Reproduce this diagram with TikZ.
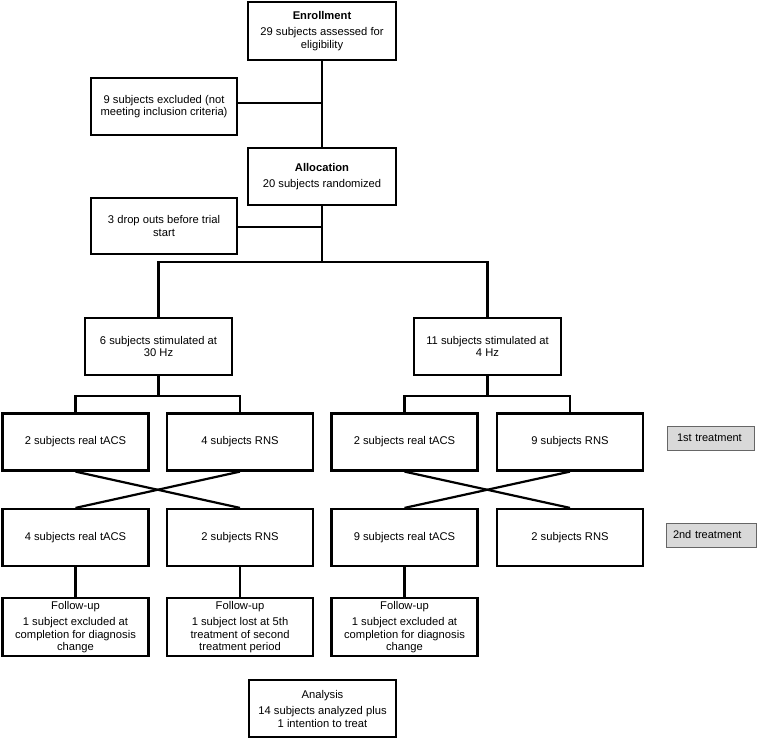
\documentclass[tikz,border=0pt]{standalone}
\usepackage{fontspec}
\setmainfont{Liberation Sans}
\usetikzlibrary{shadows}

\newcommand*{\boxw}{146pt}
\newcommand*{\boxh}{57pt}
\newcommand*{\colA}{75.5}
\newcommand*{\colB}{240}
\newcommand*{\colC}{404.5}
\newcommand*{\colD}{570}

\begin{document}
\begin{tikzpicture}
[
	x=1pt,y=-1pt,
	flowbox/.style={draw,line width=2.2pt,minimum width=\boxw,minimum height=\boxh,
		inner sep=0pt,align=center,font=\fontsize{11.2}{12.5}\selectfont},
	tagbox/.style={draw=gray!80!black,line width=0.6pt,fill=gray!30,minimum height=24pt,
		inner ysep=0pt,align=left,font=\fontsize{11}{12}\selectfont,
		drop shadow={shadow xshift=1.2pt,shadow yshift=-1.2pt,fill=gray!70}},
	link/.style={line width=2.2pt}
]

	\useasboundingbox (0,0) rectangle (758,740);

	% enrollment and allocation
	\node[flowbox,minimum width=148pt,minimum height=58pt] (enroll) at (322,31)
		{\textbf{Enrollment}\\[4pt]29 subjects assessed for\\eligibility};
	\node[flowbox] (excl) at (164,106.5) {9 subjects excluded (not\\meeting inclusion criteria)};
	\node[flowbox,minimum width=148pt] (alloc) at (322,176.5)
		{\textbf{Allocation}\\[4pt]20 subjects randomized};
	\node[flowbox,minimum height=56pt] (drop) at (164,226) {3 drop outs before trial\\start};

	% frequency groups
	\node[flowbox,minimum width=147pt] (hz30) at (158.5,346.5) {6 subjects stimulated at\\30 Hz};
	\node[flowbox,minimum width=147pt] (hz4) at (487.5,346.5) {11 subjects stimulated at\\4 Hz};

	% first treatment
	\node[flowbox] (a1) at (\colA,442) {2 subjects real tACS};
	\node[flowbox] (a2) at (\colB,442) {4 subjects RNS};
	\node[flowbox] (b1) at (\colC,442) {2 subjects real tACS};
	\node[flowbox] (b2) at (\colD,442) {9 subjects RNS};

	% second treatment
	\node[flowbox] (c1) at (\colA,537.5) {4 subjects real tACS};
	\node[flowbox] (c2) at (\colB,537.5) {2 subjects RNS};
	\node[flowbox] (d1) at (\colC,537.5) {9 subjects real tACS};
	\node[flowbox] (d2) at (\colD,537.5) {2 subjects RNS};

	% follow-up and analysis
	\node[flowbox,minimum height=58pt] (f1) at (\colA,627)
		{Follow-up\\[4pt]1 subject excluded at\\completion for diagnosis\\change};
	\node[flowbox,minimum height=58pt] (f2) at (\colB,627)
		{Follow-up\\[4pt]1 subject lost at 5th\\treatment of second\\treatment period};
	\node[flowbox,minimum height=58pt] (f3) at (\colC,627)
		{Follow-up\\[4pt]1 subject excluded at\\completion for diagnosis\\change};
	\node[flowbox,minimum width=147pt] (ana) at (322.5,708.5)
		{Analysis\\[4pt]14 subjects analyzed plus\\1 intention to treat};

	% period labels
	\node[tagbox,inner xsep=10pt,text width=67pt] (first) at (710.5,438) {1st treatment};
	\node[tagbox,inner xsep=7pt,text width=76pt] (second) at (711,535) {2nd treatment};

	% connectors
	\draw[link] (enroll.south) -- (alloc.north);
	\draw[link] (excl.east |- 0,103) -- (enroll.south |- 0,103);
	\draw[link] (drop.east |- 0,227) -- (alloc.south |- 0,227);

	\coordinate (split) at (322,262);
	\draw[link] (alloc.south) -- (split);
	\draw[link] (hz30.north) |- (split) -| (hz4.north);

	\draw[link] (hz30.south) -- ++(0,20) coordinate (splitL);
	\draw[link] (a1.north) |- (splitL) -| (a2.north);
	\draw[link] (hz4.south) -- ++(0,20) coordinate (splitR);
	\draw[link] (b1.north) |- (splitR) -| (b2.north);

	% crossover
	\draw[link] (a1.south) -- (c2.north);
	\draw[link] (a2.south) -- (c1.north);
	\draw[link] (b1.south) -- (d2.north);
	\draw[link] (b2.south) -- (d1.north);

	\draw[link] (c1.south) -- (f1.north);
	\draw[link] (c2.south) -- (f2.north);
	\draw[link] (d1.south) -- (f3.north);

\end{tikzpicture}
\end{document}
